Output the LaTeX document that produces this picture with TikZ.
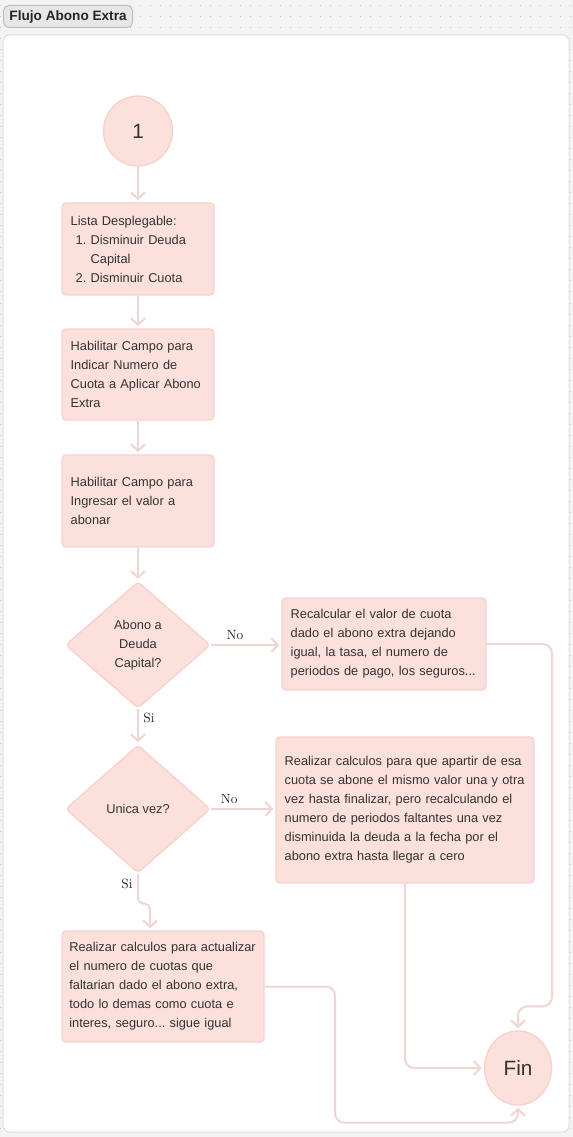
\documentclass[tikz,border=0pt]{standalone}
\usepackage{fontspec}
\usepackage{tikz}
\usetikzlibrary{arrows.meta,positioning,shapes.geometric,calc}
\newfontfamily\uisans{Liberation Sans}
\definecolor{Blush}{HTML}{FCE0DB}
\definecolor{BlushEdge}{HTML}{F6D2CC}
\definecolor{Wire}{HTML}{EFD6D2}
\definecolor{Ink}{HTML}{333333}
\definecolor{Canvas}{HTML}{F3F3F3}
\definecolor{Dots}{HTML}{C6C6C6}
\definecolor{Rim}{HTML}{E0E0E0}
\definecolor{Tab}{HTML}{E7E7E7}
\newcommand\numitem[1]{\hspace*{3.75pt}\makebox[11.25pt][l]{#1}}
\frenchspacing
\hyphenpenalty=10000
\tikzset{
  task/.style={
    rounded corners=3pt,draw=BlushEdge,line width=1pt,fill=Blush,
    inner xsep=6.5pt,inner ysep=0pt,align=left,text=Ink,
    font=\uisans\fontsize{9.6}{14.25}\selectfont
  },
  choice/.style={
    diamond,rounded corners=3pt,draw=BlushEdge,line width=1pt,fill=Blush,
    inner sep=0pt,align=center,text=Ink,
    minimum width=108.75pt,minimum height=95pt,
    font=\uisans\fontsize{9.6}{14.25}\selectfont
  },
  terminal/.style={
    ellipse,draw=BlushEdge,line width=1pt,fill=Blush,inner sep=0pt,
    text=Ink,font=\uisans\fontsize{15.5}{18}\selectfont
  },
  link/.style={-{Straight Barb[length=5pt,width=10.5pt]},line width=1.5pt,
    draw=Wire,rounded corners=7pt,shorten >=1.5pt},
  tag/.style={font=\fontsize{10}{12}\selectfont,text=black!85},
  dotrow/.style={draw=Dots,line width=0.75pt,dash pattern=on 0.75pt off 6.75pt}
}

\begin{document}
\begin{tikzpicture}[x=0.75pt,y=-0.75pt]
  \useasboundingbox (0,0) rectangle (573,1137);
  % canvas
  \fill[Canvas] (0,0) rectangle (573,1137);
  \foreach \gy in {6,17,...,1136}
    \draw[dotrow] (0,\gy) -- (573,\gy);
  \draw[fill=white,draw=Rim,line width=0.75pt,rounded corners=5pt] (3,35) rectangle (569,1132);
  \node[anchor=north west,fill=Tab,draw=Rim!85!black,line width=0.75pt,rounded corners=4pt,
        inner xsep=4.5pt,minimum height=16.5pt,text=black!85,
        font=\uisans\bfseries\fontsize{10.2}{12}\selectfont] (title) at (3,5) {Flujo Abono Extra};

  \node[terminal,minimum width=51.75pt,minimum height=52.5pt] (start) at (138,131) {1};
  \node[task,text width=101pt,minimum height=69pt] (menu) at (138,249) {
    Lista Desplegable:\\
    \numitem{1.}Disminuir Deuda\\
    \hspace*{15pt}Capital\\
    \numitem{2.}Disminuir Cuota};
  \node[task,text width=101pt,minimum height=68.25pt] (cuota) at (138,374.5) {
    Habilitar Campo para\\Indicar Numero de\\Cuota a Aplicar Abono\\Extra};
  \node[task,text width=101pt,minimum height=69pt] (valor) at (138,501) {
    Habilitar Campo para\\Ingresar el valor a\\abonar};
  \node[choice] (capital) at (138,645) {Abono a\\Deuda\\Capital?};
  \node[task,text width=140pt,minimum height=69pt] (recalc) at (384,644) {
    Recalcular el valor de cuota\\dado el abono extra dejando\\igual, la tasa, el numero de\\periodos de pago, los seguros...};
  \node[choice,minimum height=96pt] (unica) at (138,809) {Unica vez?};
  \node[task,text width=180.5pt,minimum height=109.5pt] (repetir) at (405,810) {
    Realizar calculos para que apartir de esa\\cuota se abone el mismo valor una y otra\\vez hasta finalizar, pero recalculando el\\numero de periodos faltantes una vez\\disminuida la deuda a la fecha por el\\abono extra hasta llegar a cero};
  \node[task,inner xsep=5.5pt,text width=140.5pt,minimum height=83.25pt] (actual) at (163,986.5) {
    Realizar calculos para actualizar\\el numero de cuotas que\\faltarian dado el abono extra,\\todo lo demas como cuota e\\interes, seguro... sigue igual};
  \node[terminal,minimum width=50.25pt,minimum height=55.5pt] (fin) at (518,1068) {Fin};

  \draw[link] (start) -- (menu);
  \draw[link] (menu) -- (cuota);
  \draw[link] (cuota) -- (valor);
  \draw[link] (valor) -- (capital);
  \draw[link] (capital.east) -- node[tag,above,pos=0.34] {No} (capital.east -| recalc.west);
  \draw[link] (capital) -- node[tag,right,pos=0.25] {Si} (unica);
  \draw[link] (unica.east) -- node[tag,above,pos=0.28] {No} (unica.east -| repetir.west);
  \draw[link,rounded corners=4pt] (unica.south) -- node[tag,left,pos=0.35] {Si} ++(0,30)
    -| ([xshift=-9.75pt]actual.north);
  \draw[link] (recalc.east) -| ($(fin.north)+(34,-24)$) -| (fin.north);
  \draw[link] (repetir.south) |- (fin.west);
  \draw[link] (actual.east) -| ($(fin.south)+(-183,17)$) -| (fin.south);
\end{tikzpicture}
\end{document}
